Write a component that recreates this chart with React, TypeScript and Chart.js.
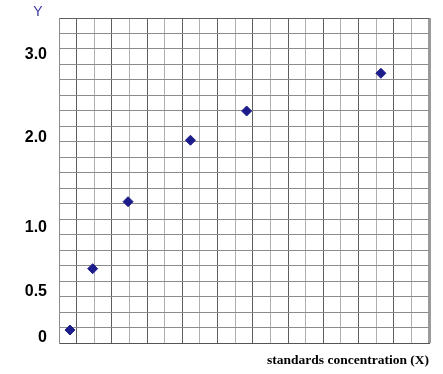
import React, { useEffect, useRef } from 'react';
import { Chart, registerables } from 'chart.js';

Chart.register(...registerables);

// Data (in grid units of the graph paper)
const xValues = [0.62, 1.91, 3.92, 7.46, 10.65, 18.27];
const yValues = [0.84, 4.8, 9.13, 13.1, 14.99, 17.43];
const yTickValues = [0.37, 3.3, 7.43, 13.25, 18.63];
const yTickLabels = ['0', '0.5', '1.0', '2.0', '3.0'];
const gridMin = 0;
const gridMax = 21;
const xTitle = 'standards concentration (X)';
const yTitle = 'Y';

const yTitlePlugin = {
  id: 'yTitleText',
  afterDraw(chart: any) {
    const { ctx, chartArea } = chart;
    ctx.save();
    ctx.font = '14px "Liberation Sans", Arial, sans-serif';
    ctx.fillStyle = '#3a3a9c';
    ctx.textAlign = 'center';
    ctx.textBaseline = 'middle';
    ctx.fillText(yTitle, chartArea.left - 21, chartArea.top - 6);
    ctx.restore();
  },
};

export default function App() {
  const canvasRef = useRef<HTMLCanvasElement | null>(null);

  useEffect(() => {
    document.body.style.margin = '0';
    const canvas = canvasRef.current;
    if (!canvas) return;
    const chart = new Chart(canvas, {
      type: 'scatter',
      data: {
        datasets: [
          {
            data: xValues.map((x, i) => ({ x, y: yValues[i] })),
            pointStyle: 'rectRot',
            pointRadius: 5,
            pointHoverRadius: 5,
            backgroundColor: '#1c1c8a',
            borderColor: '#1c1c8a',
            borderWidth: 1,
          },
        ],
      },
      options: {
        animation: false,
        responsive: true,
        maintainAspectRatio: false,
        layout: { padding: { top: 18, right: 14, left: 0, bottom: 0 } },
        plugins: {
          legend: { display: false },
          tooltip: { enabled: false },
          title: { display: false },
        },
        scales: {
          x: {
            type: 'linear',
            min: gridMin,
            max: gridMax,
            ticks: { display: false, stepSize: 1 },
            grid: {
              drawTicks: false,
              color: (c: any) =>
                c.tick.value === gridMax ? '#9a9a9a' : c.tick.value % 2 === 1 ? '#5e5e5e' : '#b0b0b0',
              lineWidth: (c: any) => (c.tick.value === gridMax ? 3 : 1),
            },
            border: { display: true, color: '#555555', width: 1 },
            title: {
              display: true,
              text: xTitle,
              align: 'end',
              color: '#000000',
              font: { family: '"Liberation Serif", "Times New Roman", serif', weight: 'bold', size: 13.5 },
              padding: { top: 0, bottom: 5 },
            },
            afterFit: (s: any) => {
              s.height = 31;
              s.paddingLeft = 0;
              s.paddingRight = 0;
            },
          },
          y: {
            type: 'linear',
            position: 'left',
            weight: 0,
            min: gridMin,
            max: gridMax,
            ticks: { display: false, stepSize: 1 },
            grid: {
              drawTicks: false,
              color: (c: any) => (c.tick.value === gridMax ? '#606060' : '#8c8c8c'),
            },
            border: { display: true, color: '#8c8c8c', width: 1 },
            afterFit: (s: any) => {
              s.width = 0;
              s.paddingTop = 0;
              s.paddingBottom = 0;
            },
          },
          yl: {
            type: 'linear',
            position: 'left',
            weight: 1,
            min: gridMin,
            max: gridMax,
            grid: { display: false, drawTicks: false },
            border: { display: false },
            ticks: {
              autoSkip: false,
              padding: 12,
              color: '#000000',
              font: { family: '"Liberation Sans", Arial, sans-serif', weight: 'bold', size: 16 },
              callback: (v: any) => {
                const i = yTickValues.indexOf(Number(v));
                return i >= 0 ? yTickLabels[i] : '';
              },
            },
            afterBuildTicks: (s: any) => {
              s.ticks = yTickValues.map((v) => ({ value: v }));
            },
            afterFit: (s: any) => {
              s.width = 59;
              s.paddingTop = 0;
              s.paddingBottom = 0;
            },
          },
        },
      } as any,
      plugins: [yTitlePlugin],
    });
    return () => chart.destroy();
  }, []);

  return (
    <div style={{ width: 443, height: 374, position: 'relative', background: '#ffffff' }}>
      <canvas ref={canvasRef} />
    </div>
  );
}
